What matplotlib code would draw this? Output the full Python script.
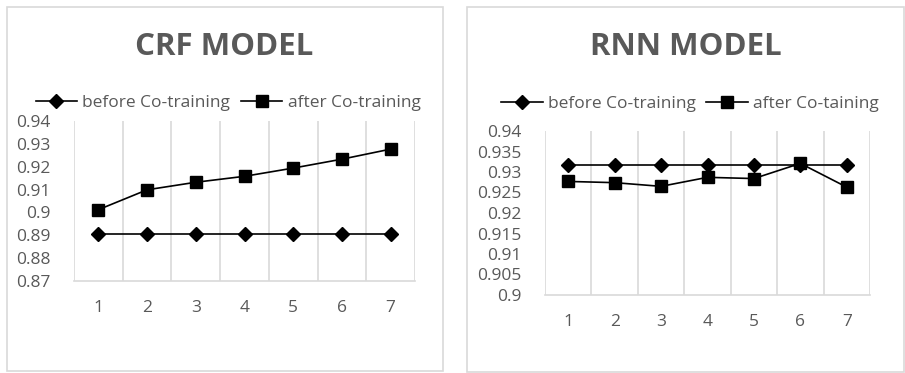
import matplotlib.pyplot as plt
from matplotlib.patches import Rectangle

plt.rcParams['font.family'] = ['Open Sans', 'DejaVu Sans']

runs = [1, 2, 3, 4, 5, 6, 7]
crf_before = [0.8905, 0.8905, 0.8905, 0.8905, 0.8905, 0.8905, 0.8905]
crf_after = [0.9012, 0.9099, 0.9132, 0.9158, 0.9194, 0.9233, 0.9277]
rnn_before = [0.9316, 0.9316, 0.9316, 0.9316, 0.9316, 0.9316, 0.9316]
rnn_after = [0.9277, 0.9274, 0.9265, 0.9287, 0.9284, 0.9321, 0.9263]

crf_ticks = [0.87, 0.88, 0.89, 0.9, 0.91, 0.92, 0.93, 0.94]
crf_labels = ['0.87', '0.88', '0.89', '0.9', '0.91', '0.92', '0.93', '0.94']
rnn_ticks = [0.9, 0.905, 0.91, 0.915, 0.92, 0.925, 0.93, 0.935, 0.94]
rnn_labels = ['0.9', '0.905', '0.91', '0.915', '0.92', '0.925', '0.93', '0.935', '0.94']

W, H = 905, 373
gray = '#595959'
grid = '#d9d9d9'

fig = plt.figure(figsize=(W / 100, H / 100), dpi=100)


def px(x0, y0, x1, y1):
    # pixel box (top-left origin) -> figure fraction
    return [x0 / W, 1 - y1 / H, (x1 - x0) / W, (y1 - y0) / H]


# outer chart boxes
for (x0, y0, x1, y1) in [(7, 7, 443, 371), (467, 7, 904, 372)]:
    b = px(x0, y0, x1, y1)
    fig.patches.append(Rectangle((b[0], b[1]), b[2], b[3], transform=fig.transFigure,
                                 fill=False, edgecolor=grid, linewidth=1.2))


def panel(box, title, title_x, before, after, ticks, labels, legend_names, legend_y, legend_x):
    ax = fig.add_axes(px(*box))
    x = [r - 0.5 for r in runs]
    ax.plot(x, before, color='black', lw=1.2, marker='D', ms=7, label=legend_names[0], zorder=3)
    ax.plot(x, after, color='black', lw=1.2, marker='s', ms=8.5, label=legend_names[1], zorder=3)
    ax.set_xlim(0, 7)
    ax.set_ylim(ticks[0], ticks[-1])
    ax.set_xticks(x)
    ax.set_xticklabels([str(r) for r in runs])
    ax.set_xticks(range(0, 8), minor=True)
    ax.grid(True, which='minor', axis='x', color=grid, lw=1.2)
    ax.set_yticks(ticks)
    ax.set_yticklabels(labels)
    for s in ['top', 'right', 'left']:
        ax.spines[s].set_visible(False)
    ax.spines['bottom'].set_color(grid)
    ax.spines['bottom'].set_linewidth(1.2)
    ax.tick_params(axis='both', which='both', length=0, colors=gray, labelsize=12.5)
    ax.tick_params(axis='x', pad=14)
    ax.tick_params(axis='y', pad=17)
    fig.text(title_x / W, 1 - 47 / H, title, ha='center', va='center', fontsize=22.5,
             fontweight='bold', color=gray)
    leg = ax.legend(loc='center', bbox_to_anchor=(legend_x / W, 1 - legend_y / H),
                    bbox_transform=fig.transFigure, ncol=2, frameon=False, fontsize=12.5,
                    handlelength=2.4, handletextpad=0.3, columnspacing=0.6, borderpad=0)
    for t in leg.get_texts():
        t.set_color(gray)
    return ax


panel((74, 121, 415, 281), 'CRF MODEL', 224, crf_before, crf_after, crf_ticks, crf_labels,
      ['before Co-training', 'after Co-training'], 103, 228)
panel((545, 131, 870, 295), 'RNN MODEL', 686, rnn_before, rnn_after, rnn_ticks, rnn_labels,
      ['before Co-training', 'after Co-taining'], 104, 690)

fig.savefig('out.png', dpi=100)
